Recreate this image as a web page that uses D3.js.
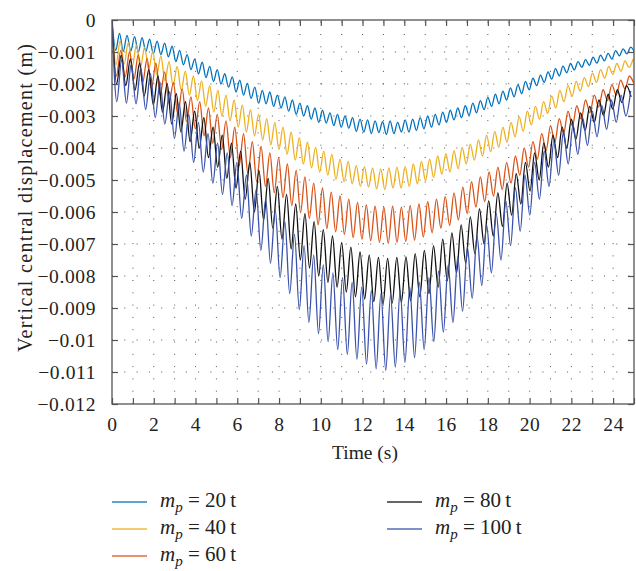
<!DOCTYPE html>
<html>
<head>
<meta charset="utf-8">
<script src="https://cdn.jsdelivr.net/npm/d3@7"></script>
<style>
  body { margin: 0; background: #fff; }
  svg text { font-family: "Liberation Serif", "DejaVu Serif", serif; fill: #222; }
</style>
</head>
<body>
<svg id="chart" width="636" height="571"></svg>
<script>
// ─── Data (vertical central displacement in mm, sampled at every half-cycle) ──
const labels = ["20", "40", "60", "80", "100"];
const colors = ["#0072bd", "#edb120", "#d95319", "#111111", "#3a52aa"];
const steps  = [0.18, 0.195, 0.21, 0.22, 0.23];   // s between samples

const disp20 = [0,-0.95,-0.42,-0.98,-0.48,-0.97,-0.52,-1.0,-0.55,-0.98,-0.6,-1.05,-0.66,-1.08,-0.72,-1.15,-0.82,-1.3,-0.95,-1.4,
  -1.08,-1.55,-1.22,-1.68,-1.32,-1.8,-1.45,-1.92,-1.55,-2.0,-1.68,-2.1,-1.78,-2.25,-1.88,-2.35,-1.98,-2.45,-2.1,-2.6,
  -2.2,-2.62,-2.25,-2.7,-2.35,-2.75,-2.4,-2.85,-2.5,-2.95,-2.6,-3.0,-2.68,-3.1,-2.75,-3.2,-2.82,-3.22,-2.9,-3.3,
  -2.95,-3.35,-3.0,-3.38,-3.05,-3.48,-3.1,-3.5,-3.12,-3.55,-3.15,-3.52,-3.18,-3.58,-3.15,-3.55,-3.2,-3.5,-3.12,-3.5,
  -3.1,-3.45,-3.05,-3.4,-3.0,-3.35,-2.95,-3.28,-2.88,-3.2,-2.82,-3.12,-2.75,-3.05,-2.68,-2.98,-2.6,-2.9,-2.52,-2.8,
  -2.42,-2.7,-2.32,-2.62,-2.22,-2.5,-2.12,-2.4,-2.02,-2.3,-1.92,-2.18,-1.82,-2.05,-1.72,-1.95,-1.62,-1.85,-1.52,-1.75,
  -1.44,-1.65,-1.36,-1.56,-1.3,-1.48,-1.24,-1.42,-1.16,-1.35,-1.1,-1.28,-1.04,-1.22,-0.96,-1.12,-0.9,-1.06,-0.85,-1.0];

const disp40 = [0,-1.4,-0.65,-1.38,-0.7,-1.45,-0.78,-1.48,-0.85,-1.55,-0.98,-1.72,-1.12,-1.9,-1.3,-2.05,-1.45,-2.2,-1.6,-2.35,
  -1.75,-2.52,-1.9,-2.7,-2.05,-2.88,-2.2,-3.0,-2.35,-3.15,-2.5,-3.35,-2.65,-3.5,-2.8,-3.62,-2.95,-3.75,-3.08,-3.9,
  -3.2,-4.05,-3.35,-4.2,-3.5,-4.38,-3.68,-4.5,-3.82,-4.62,-3.98,-4.75,-4.1,-4.85,-4.2,-4.98,-4.35,-5.05,-4.42,-5.12,
  -4.55,-5.2,-4.58,-5.22,-4.62,-5.28,-4.65,-5.3,-4.62,-5.25,-4.6,-5.25,-4.58,-5.2,-4.5,-5.12,-4.42,-5.02,-4.35,-4.92,
  -4.25,-4.82,-4.18,-4.75,-4.08,-4.65,-3.98,-4.5,-3.88,-4.38,-3.75,-4.25,-3.6,-4.12,-3.48,-3.98,-3.35,-3.82,-3.2,-3.65,
  -3.02,-3.48,-2.85,-3.28,-2.7,-3.1,-2.55,-2.92,-2.38,-2.75,-2.2,-2.55,-2.05,-2.38,-1.92,-2.22,-1.8,-2.08,-1.66,-1.95,
  -1.55,-1.82,-1.45,-1.7,-1.36,-1.6,-1.28,-1.48,-1.22];

const disp60 = [0,-1.75,-0.95,-1.78,-1.0,-1.85,-1.08,-1.95,-1.2,-2.15,-1.35,-2.35,-1.62,-2.6,-1.95,-2.95,-2.15,-3.18,-2.4,-3.4,
  -2.55,-3.62,-2.75,-3.85,-2.95,-4.05,-3.15,-4.3,-3.35,-4.55,-3.55,-4.8,-3.8,-5.05,-3.95,-5.2,-4.15,-5.4,-4.3,-5.55,
  -4.5,-5.8,-4.7,-6.02,-4.9,-6.2,-5.1,-6.4,-5.25,-6.52,-5.38,-6.62,-5.5,-6.7,-5.6,-6.8,-5.7,-6.85,-5.78,-6.9,
  -5.82,-6.95,-5.85,-6.98,-5.82,-6.95,-5.85,-6.92,-5.8,-6.88,-5.75,-6.78,-5.68,-6.65,-5.6,-6.5,-5.52,-6.42,-5.4,-6.25,
  -5.22,-6.05,-5.05,-5.85,-4.9,-5.68,-4.75,-5.5,-4.6,-5.3,-4.45,-5.1,-4.25,-4.85,-4.0,-4.6,-3.8,-4.35,-3.55,-4.08,
  -3.3,-3.82,-3.08,-3.55,-2.85,-3.32,-2.68,-3.1,-2.5,-2.9,-2.35,-2.72,-2.18,-2.52,-2.02,-2.35,-1.88,-2.15,-1.75,-1.98];

const disp80 = [0,-2.0,-1.1,-2.05,-1.22,-2.2,-1.35,-2.38,-1.55,-2.65,-1.75,-2.88,-1.98,-3.25,-2.3,-3.5,-2.55,-3.8,-2.85,-4.0,
  -3.05,-4.3,-3.35,-4.6,-3.6,-4.95,-3.85,-5.25,-4.1,-5.6,-4.45,-6.0,-4.7,-6.25,-4.95,-6.5,-5.2,-6.85,-5.45,-7.15,
  -5.75,-7.5,-6.05,-7.75,-6.3,-8.0,-6.55,-8.2,-6.75,-8.35,-6.95,-8.5,-7.1,-8.65,-7.25,-8.72,-7.35,-8.8,-7.42,-8.88,
  -7.45,-8.85,-7.42,-8.82,-7.4,-8.78,-7.3,-8.65,-7.2,-8.55,-7.05,-8.35,-6.85,-8.15,-6.65,-7.9,-6.4,-7.6,-6.15,-7.3,
  -5.9,-7.0,-5.65,-6.75,-5.4,-6.45,-5.1,-6.1,-4.8,-5.75,-4.45,-5.35,-4.15,-5.0,-3.85,-4.6,-3.6,-4.3,-3.35,-4.0,
  -3.1,-3.72,-2.9,-3.45,-2.7,-3.2,-2.5,-2.98,-2.32,-2.78,-2.18,-2.58,-2.05,-2.4];

const disp100 = [0,-2.55,-1.25,-2.6,-1.38,-2.62,-1.5,-2.8,-1.68,-3.05,-1.95,-3.25,-2.25,-3.7,-2.6,-4.1,-2.95,-4.45,-3.2,-4.75,
  -3.55,-5.1,-3.85,-5.45,-4.15,-5.8,-4.45,-6.2,-4.85,-6.75,-5.3,-7.2,-5.6,-7.6,-5.95,-8.05,-6.3,-8.55,-6.7,-9.05,
  -7.05,-9.45,-7.35,-9.8,-7.65,-10.05,-7.9,-10.3,-8.05,-10.45,-8.2,-10.6,-8.35,-10.75,-8.45,-10.9,-8.55,-10.95,-8.6,-10.85,
  -8.45,-10.7,-8.35,-10.55,-8.2,-10.3,-8.05,-10.05,-7.85,-9.75,-7.65,-9.45,-7.4,-9.1,-7.1,-8.7,-6.75,-8.3,-6.4,-7.9,
  -6.05,-7.5,-5.65,-7.05,-5.25,-6.6,-4.85,-6.1,-4.45,-5.6,-4.1,-5.2,-3.8,-4.85,-3.5,-4.5,-3.28,-4.2,-3.05,-3.92,
  -2.85,-3.65,-2.68,-3.42,-2.5,-3.2,-2.35,-3.0,-2.22];

const xTicks = d3.range(0, 26, 1);          // s
const yTicks = d3.range(0, -0.0125, -0.001); // m

const seriesValues = [disp20, disp40, disp60, disp80, disp100];
const series = labels.map((lab, k) => ({
  label: lab,
  color: colors[k],
  points: seriesValues[k].map((v, i) => ({ t: i * steps[k], y: v / 1000 }))
}));

// ─── Layout ─────────────────────────────────────────────────────────────────
const margin = { top: 20, right: 2, bottom: 167, left: 112 };
const W = 636, H = 571;
const iw = W - margin.left - margin.right;
const ih = H - margin.top - margin.bottom;

const svg = d3.select("#chart");
const g = svg.append("g").attr("transform", `translate(${margin.left},${margin.top})`);

const x = d3.scaleLinear().domain([0, 25]).range([0, iw]);
const y = d3.scaleLinear().domain([-0.012, 0]).range([ih, 0]);

// dotted grid
const grid = g.append("g").attr("class", "grid")
  .attr("stroke", "#555").attr("stroke-width", 1).attr("stroke-dasharray", "1,11.3");
grid.selectAll("line.v").data(xTicks.slice(1, -1)).join("line")
  .attr("x1", d => x(d)).attr("x2", d => x(d)).attr("y1", ih).attr("y2", 0);
grid.selectAll("line.h").data(yTicks.slice(1, -1)).join("line")
  .attr("y1", d => y(d)).attr("y2", d => y(d)).attr("x1", 0).attr("x2", iw);

// series
g.append("clipPath").attr("id", "clip")
  .append("rect").attr("width", iw).attr("height", ih);

const line = d3.line()
  .x(d => x(d.t))
  .y(d => y(d.y))
  .curve(d3.curveMonotoneX);

g.append("g").attr("clip-path", "url(#clip)")
  .selectAll("path")
  .data(series)
  .join("path")
    .attr("fill", "none")
    .attr("stroke", d => d.color)
    .attr("stroke-width", 1.3)
    .attr("stroke-linejoin", "round")
    .attr("d", d => line(d.points));

// axes (ticks pointing inward on all four sides)
const axisColor = "#555";
const fmtY = d3.format("~g");
const styleAxis = sel => {
  sel.select(".domain").remove();
  sel.selectAll(".tick line").attr("stroke", axisColor).attr("stroke-width", 1.2);
  sel.selectAll(".tick text").attr("font-size", 19.5).attr("fill", "#222")
    .style("font-family", "'Liberation Serif', serif")
    .style("letter-spacing", "0.6px");
};

g.append("g").attr("transform", `translate(0,${ih})`)
  .call(d3.axisBottom(x).tickValues(xTicks).tickSize(-6).tickPadding(13)
    .tickFormat(d => d % 2 === 0 && d < 25 ? d : ""))
  .call(styleAxis);
g.append("g")
  .call(d3.axisTop(x).tickValues(xTicks).tickSize(-6).tickFormat(""))
  .call(styleAxis);
g.append("g")
  .call(d3.axisLeft(y).tickValues(yTicks).tickSize(-6).tickPadding(16)
    .tickFormat(d => Math.abs(d) < 1e-9 ? "0" : fmtY(+d.toFixed(3))))
  .call(styleAxis);
g.append("g").attr("transform", `translate(${iw},0)`)
  .call(d3.axisRight(y).tickValues(yTicks).tickSize(-6).tickFormat(""))
  .call(styleAxis);

// frame
g.append("rect")
  .attr("width", iw).attr("height", ih)
  .attr("fill", "none").attr("stroke", axisColor).attr("stroke-width", 1.3);

// axis titles
g.append("text")
  .attr("x", iw / 2 - 8).attr("y", ih + 55)
  .attr("text-anchor", "middle").attr("font-size", 19.5)
  .text("Time (s)");

g.append("text")
  .attr("transform", "rotate(-90)")
  .attr("x", -178).attr("y", -112 + 32)
  .attr("text-anchor", "middle").attr("font-size", 20)
  .attr("textLength", 308).attr("lengthAdjust", "spacing")
  .text("Vertical central displacement (m)");

// ─── Legend ────────────────────────────────────────────────────────────────
const legendPos = [[112, 502], [112, 529], [112, 556], [387, 502], [387, 529]];
const legend = svg.append("g").attr("class", "legend");
series.forEach((s, k) => {
  const [lx, ly] = legendPos[k];
  const item = legend.append("g").attr("transform", `translate(${lx},${ly})`);
  item.append("line")
    .attr("x1", 0).attr("x2", 35)
    .attr("stroke", s.color).attr("stroke-width", 1.3).attr("opacity", 0.85);
  const txt = item.append("text").attr("x", 48).attr("y", 5).attr("font-size", 21);
  txt.append("tspan").attr("font-style", "italic").text("m");
  txt.append("tspan").attr("font-style", "italic").attr("font-size", 15).attr("dy", 5).text("p");
  txt.append("tspan").attr("dy", -5).text(` = ${s.label}\u2009t`);
});
</script>
</body>
</html>
